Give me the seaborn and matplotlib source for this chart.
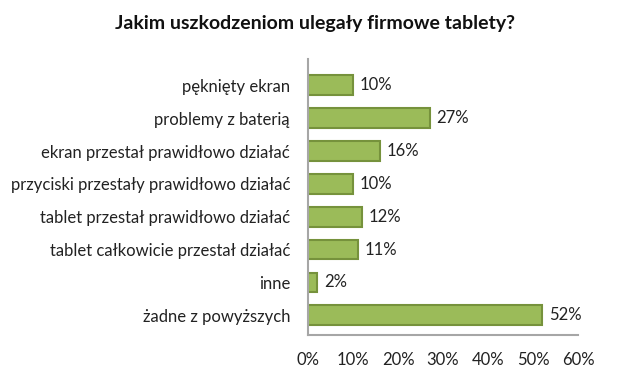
import matplotlib
matplotlib.use("Agg")
import matplotlib.pyplot as plt
import seaborn as sns
import pandas as pd

categories = [
    "pęknięty ekran",
    "problemy z baterią",
    "ekran przestał prawidłowo działać",
    "przyciski przestały prawidłowo działać",
    "tablet przestał prawidłowo działać",
    "tablet całkowicie przestał działać",
    "inne",
    "żadne z powyższych",
]
values = [10, 27, 16, 10, 12, 11, 2, 52]
xticks = [0, 10, 20, 30, 40, 50, 60]
xticklabels = ["0%", "10%", "20%", "30%", "40%", "50%", "60%"]

sns.set_theme(style="white")
plt.rcParams["font.family"] = ["Lato", "DejaVu Sans"]

df = pd.DataFrame({"cat": categories, "val": values})

fig = plt.figure(figsize=(6.3, 3.76), dpi=100)
ax = fig.add_axes([0.489, 0.109, 0.4286, 0.734])
sns.barplot(data=df, y="cat", x="val", orient="h", color="#9BBB59",
            saturation=1, width=0.6, edgecolor="#76923C", linewidth=1.5, ax=ax)

for i, v in enumerate(values):
    ax.text(v + 1.5, i, f"{v}%", va="center", ha="left", fontsize=12, color="#222222")

ax.set_xlim(0, 60)
ax.set_xticks(xticks)
ax.set_xticklabels(xticklabels, fontsize=12, color="#222222")
ax.tick_params(axis="y", labelsize=12, colors="#222222", length=0, pad=13)
ax.tick_params(axis="x", length=0, pad=12)
ax.set_xlabel("")
ax.set_ylabel("")
for s in ["top", "right"]:
    ax.spines[s].set_visible(False)
for s in ["left", "bottom"]:
    ax.spines[s].set_color("#A6A6A6")
    ax.spines[s].set_linewidth(1.5)
ax.set_ylim(7.6, -0.8)

fig.suptitle("Jakim uszkodzeniom ulegały firmowe tablety?", x=0.50, y=0.96,
             fontsize=14, fontweight="bold", color="#111111")
fig.savefig("out.png", dpi=100)
